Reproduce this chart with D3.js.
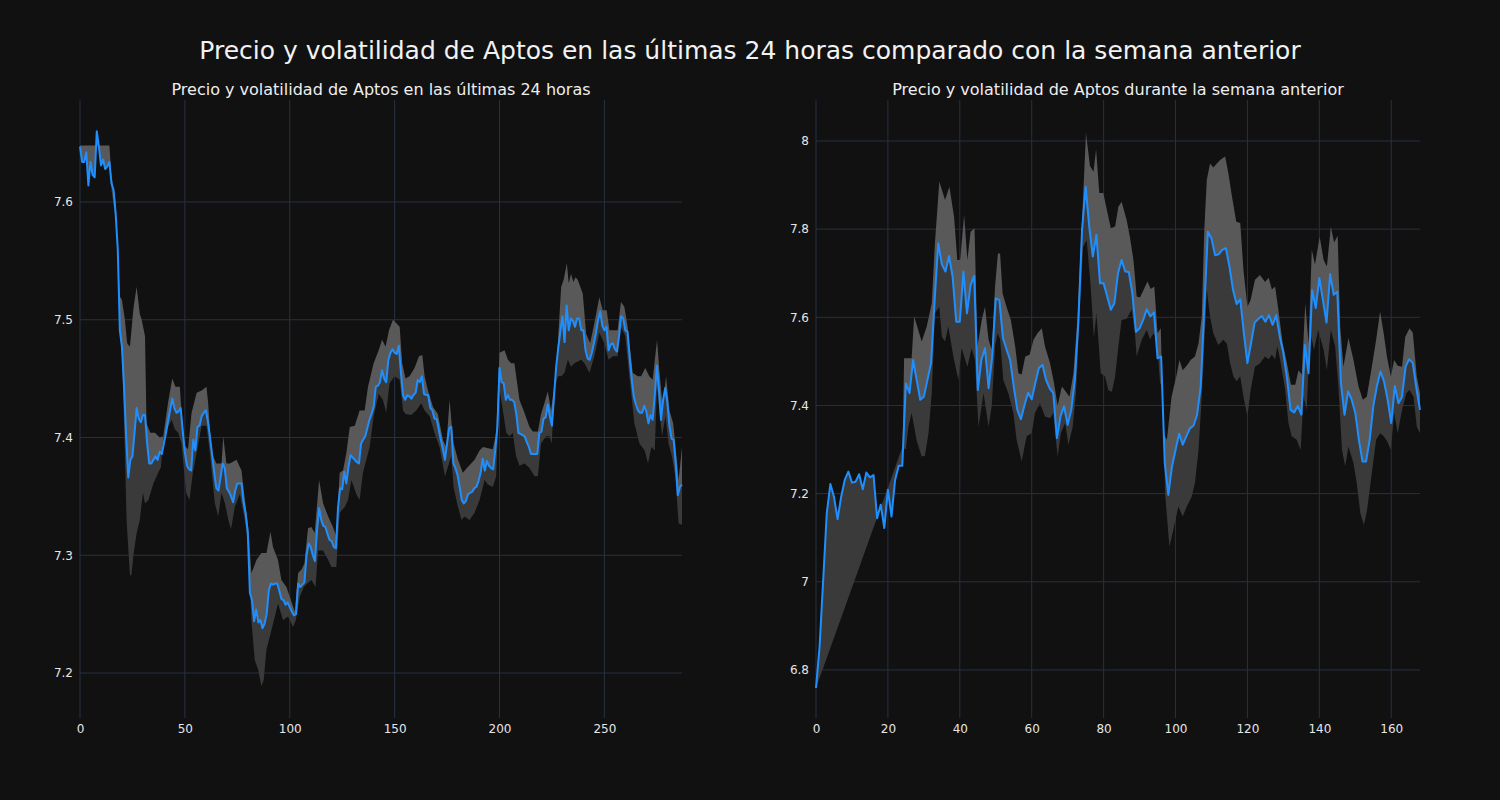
<!DOCTYPE html>
<html><head><meta charset="utf-8">
<script src="https://cdn.jsdelivr.net/npm/d3@7"></script>
<style>
html,body{margin:0;padding:0;background:#111111;}
svg text{font-family:"DejaVu Sans",sans-serif;}
</style></head>
<body>
<svg id="chart" width="1500" height="800"></svg>
<script>
const mainTitle = "Precio y volatilidad de Aptos en las últimas 24 horas comparado con la semana anterior";
const leftTitle = "Precio y volatilidad de Aptos en las últimas 24 horas";
const rightTitle = "Precio y volatilidad de Aptos durante la semana anterior";

const leftXTicks = [0, 50, 100, 150, 200, 250];
const leftYTicks = [7.2, 7.3, 7.4, 7.5, 7.6];
const rightXTicks = [0, 20, 40, 60, 80, 100, 120, 140, 160];
const rightYTicks = [6.8, 7.0, 7.2, 7.4, 7.6, 7.8, 8.0];

// 24h price (5-minute steps)
const leftPrice = [
7.647,7.634,7.634,7.642,7.614,7.634,7.623,7.621,7.660,7.647,
7.631,7.636,7.628,7.630,7.634,7.616,7.610,7.590,7.560,7.491,
7.477,7.443,7.401,7.366,7.381,7.384,7.404,7.425,7.416,7.413,
7.419,7.419,7.395,7.378,7.378,7.381,7.384,7.381,7.388,7.386,
7.395,7.404,7.414,7.424,7.433,7.425,7.421,7.422,7.425,7.405,
7.387,7.376,7.373,7.372,7.398,7.389,7.409,7.410,7.418,7.421,
7.423,7.413,7.400,7.385,7.370,7.357,7.355,7.366,7.378,7.374,
7.357,7.354,7.350,7.345,7.355,7.361,7.361,7.361,7.345,7.335,
7.319,7.268,7.262,7.244,7.254,7.243,7.245,7.238,7.242,7.250,
7.270,7.276,7.275,7.276,7.276,7.270,7.263,7.262,7.258,7.260,
7.256,7.252,7.249,7.250,7.276,7.273,7.275,7.277,7.300,7.310,
7.307,7.300,7.295,7.321,7.340,7.330,7.325,7.324,7.318,7.313,
7.312,7.307,7.306,7.340,7.357,7.356,7.371,7.361,7.375,7.385,
7.383,7.381,7.379,7.378,7.395,7.398,7.401,7.408,7.415,7.420,
7.426,7.443,7.444,7.447,7.457,7.450,7.447,7.466,7.472,7.475,
7.472,7.471,7.478,7.455,7.436,7.432,7.436,7.435,7.433,7.436,
7.438,7.449,7.447,7.452,7.437,7.436,7.436,7.425,7.423,7.416,
7.416,7.407,7.398,7.390,7.381,7.395,7.408,7.409,7.378,7.374,
7.368,7.358,7.347,7.344,7.346,7.352,7.353,7.354,7.357,7.358,
7.363,7.370,7.382,7.372,7.380,7.376,7.374,7.373,7.390,7.409,
7.459,7.447,7.446,7.432,7.436,7.432,7.432,7.430,7.420,7.404,
7.403,7.402,7.401,7.396,7.392,7.386,7.386,7.386,7.386,7.404,
7.405,7.416,7.417,7.428,7.418,7.410,7.435,7.460,7.476,7.490,
7.503,7.481,7.512,7.491,7.501,7.499,7.494,7.501,7.501,7.491,
7.491,7.474,7.467,7.466,7.472,7.480,7.489,7.500,7.507,7.495,
7.491,7.494,7.474,7.479,7.480,7.475,7.473,7.486,7.503,7.501,
7.491,7.490,7.469,7.450,7.435,7.428,7.423,7.421,7.421,7.427,
7.422,7.412,7.419,7.415,7.435,7.461,7.440,7.415,7.432,7.442,
7.430,7.410,7.399,7.398,7.378,7.351,7.358,7.360];

const leftUpperX = [0,14,15,17,18,19,20,21.4,22.5,23.8,25.5,27,28.5,29.4,31,31.7,33.5,35.7,38,39.7,42,44,45.5,47.6,48.4,50,51.5,53.2,55.6,58,60.3,61.1,62.7,65,67.5,68.3,69.8,71.4,74.6,77,78.6,80.2,81.7,82.9,84.1,86.5,88.9,90.8,92,94.4,96,98.4,100,102.4,104,105.6,107,108.7,110.3,111.9,114,115.9,118.3,120.6,122.2,123.8,125.4,127,128.6,131,133.3,135.7,137.3,140,142.4,144,145.7,147.3,149.2,150.8,152.4,153.6,155.2,157.1,159.5,161.6,163.2,164.3,165.9,168.3,170.6,173,174.6,176.2,177,178.1,180.2,182.5,184.9,188.1,190.5,192.1,196.8,198.4,200,202.4,204,205.6,207.1,209.5,211.9,214.3,215.9,218.3,219.8,221.4,223,224.6,226.2,227.8,229.4,230.6,232.1,233,234.1,235.2,236.2,237.3,239.7,241.3,243.2,245.2,247.6,249.2,251.1,252.4,256.3,257.9,259.5,261.1,263.5,265.9,267.5,269.5,271.4,273,275.1,276.2,277.8,279.4,281,282.8,284.1,285.4,287];
const leftUpperV = [7.648,7.648,7.622,7.600,7.565,7.520,7.517,7.500,7.480,7.477,7.510,7.528,7.505,7.500,7.486,7.412,7.404,7.404,7.400,7.401,7.430,7.450,7.443,7.443,7.421,7.393,7.390,7.421,7.438,7.440,7.443,7.429,7.387,7.378,7.378,7.401,7.378,7.378,7.381,7.372,7.347,7.324,7.285,7.290,7.296,7.302,7.302,7.320,7.307,7.296,7.279,7.273,7.265,7.252,7.285,7.288,7.293,7.323,7.324,7.319,7.364,7.344,7.333,7.324,7.316,7.370,7.372,7.387,7.409,7.410,7.423,7.423,7.443,7.463,7.474,7.483,7.477,7.491,7.500,7.497,7.494,7.463,7.450,7.452,7.459,7.469,7.470,7.452,7.440,7.426,7.420,7.398,7.392,7.432,7.415,7.395,7.381,7.370,7.375,7.381,7.389,7.392,7.390,7.404,7.472,7.474,7.466,7.463,7.463,7.432,7.421,7.409,7.405,7.405,7.420,7.429,7.439,7.423,7.446,7.480,7.528,7.534,7.548,7.531,7.539,7.532,7.536,7.534,7.522,7.488,7.480,7.497,7.519,7.508,7.508,7.491,7.491,7.515,7.511,7.494,7.455,7.452,7.452,7.459,7.452,7.449,7.483,7.457,7.426,7.452,7.423,7.412,7.389,7.364,7.392];

const leftLowerX = [15,17,18,19,20,21.4,22.2,23.8,24.5,25.6,27,28.5,30,31,32.6,35,37.3,38.6,39.7,43.7,45.2,46.8,48.4,50.6,52.2,53.8,55.6,58,60.3,61.9,64.3,65.9,67.5,69.1,70.7,72,73.8,76.2,78.6,80.2,81.7,83.3,84.9,86.5,87.6,88.9,90.5,92.9,94.4,96.8,99.2,101.6,102.9,104.8,106.7,108.3,110.3,112.3,113.5,115.9,118.3,119.9,122.2,123.8,126.2,127.8,129.4,131.7,133.3,134.9,136.5,138.1,140,142.4,144.4,146,147.6,150,152.4,154,155.2,157.9,160.3,162.7,164.3,166.7,169,171.4,174,175.4,177,178.1,180.2,181.9,183.3,185.7,188.1,190.5,192.9,194.4,196.8,198.4,200,201.6,203.2,204.8,206.3,207.9,209.5,211.9,214.3,216.7,218.3,219.8,222.2,223.8,224.9,226.2,227.8,229.4,231,232.6,234.1,235.7,238.9,240.5,242.9,245.2,247.6,250,252,254,256.3,257.9,260,261.9,264.3,266.7,269.2,270.8,272.4,274,275.1,276.2,277.5,279.1,280.6,282.2,283.8,285.4,287];
const leftLowerV = [7.610,7.585,7.550,7.490,7.470,7.387,7.330,7.283,7.283,7.302,7.319,7.330,7.353,7.344,7.347,7.361,7.370,7.375,7.401,7.415,7.407,7.404,7.395,7.353,7.347,7.370,7.387,7.410,7.410,7.387,7.344,7.333,7.353,7.344,7.330,7.322,7.341,7.352,7.330,7.307,7.245,7.211,7.203,7.189,7.194,7.220,7.231,7.248,7.259,7.245,7.248,7.239,7.245,7.265,7.273,7.276,7.279,7.273,7.304,7.304,7.296,7.290,7.290,7.336,7.341,7.347,7.364,7.352,7.347,7.370,7.381,7.392,7.418,7.437,7.432,7.421,7.446,7.452,7.449,7.423,7.420,7.419,7.423,7.429,7.423,7.418,7.404,7.392,7.367,7.375,7.384,7.358,7.341,7.330,7.333,7.330,7.336,7.347,7.364,7.360,7.358,7.367,7.441,7.423,7.404,7.401,7.404,7.384,7.376,7.378,7.374,7.367,7.367,7.395,7.401,7.401,7.395,7.440,7.452,7.452,7.455,7.466,7.460,7.463,7.466,7.463,7.455,7.469,7.489,7.480,7.466,7.469,7.469,7.494,7.486,7.452,7.412,7.395,7.389,7.378,7.392,7.389,7.443,7.423,7.401,7.418,7.395,7.384,7.367,7.327,7.326];

// previous week price (hourly)
const rightPrice = [
6.759,6.853,7.004,7.156,7.222,7.193,7.142,7.193,7.231,7.250,
7.225,7.227,7.244,7.210,7.248,7.237,7.242,7.144,7.175,7.122,
7.209,7.148,7.231,7.263,7.263,7.450,7.428,7.503,7.458,7.413,
7.420,7.458,7.496,7.639,7.768,7.720,7.704,7.739,7.692,7.590,
7.590,7.704,7.609,7.673,7.694,7.435,7.503,7.530,7.439,7.510,
7.643,7.639,7.553,7.527,7.503,7.443,7.390,7.369,7.401,7.429,
7.414,7.451,7.485,7.492,7.458,7.439,7.428,7.326,7.375,7.398,
7.356,7.390,7.458,7.594,7.798,7.896,7.806,7.738,7.787,7.677,
7.677,7.647,7.617,7.632,7.700,7.730,7.704,7.703,7.654,7.567,
7.575,7.594,7.618,7.602,7.611,7.507,7.511,7.270,7.197,7.261,
7.299,7.336,7.311,7.330,7.348,7.354,7.379,7.443,7.620,7.794,
7.779,7.741,7.743,7.753,7.757,7.715,7.662,7.630,7.641,7.564,
7.496,7.541,7.588,7.596,7.603,7.590,7.605,7.583,7.605,7.556,
7.519,7.462,7.390,7.384,7.399,7.379,7.537,7.473,7.662,7.621,
7.689,7.639,7.588,7.698,7.651,7.658,7.451,7.379,7.432,7.413,
7.383,7.322,7.273,7.273,7.322,7.398,7.443,7.477,7.454,7.413,
7.360,7.444,7.405,7.420,7.488,7.505,7.496,7.439,7.390];

const rightUpperX = [24,24.5,26.6,27.3,29.4,30.8,32.2,33.1,34.3,35.9,37.1,38.4,39.3,40.1,41.2,42.1,43,44.1,44.9,46.1,47,48,48.9,49.8,50.6,51.2,51.9,53,54.2,55.4,56.3,57.2,58.2,59.4,60.5,61.6,62.8,63.7,65.1,66.2,67.2,68.4,69.6,70.5,71.6,72.7,74,75.1,76.2,77.2,77.9,78.8,79.9,80.9,82,83.2,84.1,85,86.4,87.3,88.3,89.2,90.1,91.1,92.2,93.1,94.1,95,95.9,96.6,97.6,98.9,100.2,101.1,102,103.1,104.2,105.4,106.4,107.3,108,108.7,109.6,110.5,111.5,112.4,113.8,114.7,115.7,116.9,118,118.9,120,120.9,122.1,123.5,124.9,125.9,126.8,127.7,128.6,129.8,131,132.1,133.3,134.2,135.1,136.1,137,137.9,138.8,140.1,141.2,142.1,143.2,144.1,145.1,145.8,146.7,148.1,149.5,150.9,152.1,153.2,154.6,155.8,156.9,157.9,158.8,159.9,160.8,161.8,163,163.9,165.1,166,167.1,168];
const rightUpperV = [7.263,7.507,7.507,7.602,7.545,7.579,7.632,7.771,7.908,7.866,7.896,7.828,7.730,7.730,7.832,7.730,7.794,7.802,7.534,7.594,7.624,7.549,7.526,7.670,7.745,7.745,7.654,7.624,7.594,7.534,7.473,7.470,7.511,7.515,7.549,7.564,7.575,7.534,7.496,7.451,7.400,7.443,7.430,7.420,7.473,7.594,7.821,8.018,7.943,7.930,7.981,7.882,7.882,7.844,7.802,7.806,7.851,7.862,7.821,7.783,7.730,7.647,7.645,7.662,7.681,7.664,7.670,7.564,7.575,7.337,7.322,7.420,7.466,7.503,7.480,7.490,7.503,7.511,7.541,7.602,7.798,7.912,7.949,7.940,7.949,7.957,7.965,7.927,7.874,7.817,7.814,7.707,7.624,7.640,7.685,7.696,7.680,7.690,7.663,7.670,7.617,7.541,7.496,7.447,7.447,7.480,7.470,7.632,7.540,7.753,7.720,7.783,7.730,7.715,7.806,7.770,7.785,7.579,7.488,7.553,7.503,7.443,7.413,7.420,7.488,7.549,7.613,7.564,7.511,7.466,7.503,7.490,7.488,7.556,7.575,7.565,7.466,7.428];

const rightLowerX = [0,24,25,25.7,26.6,28,29.4,30.3,31.3,32.2,33.1,34.3,35,35.9,36.8,38.2,39.6,40.5,42.1,43.3,44.2,45.2,46.6,48,48.9,49.8,50.5,51.2,52.1,53.5,54.9,55.8,57.2,58.6,60,60.9,62.3,63.7,65.1,66,67.2,68.1,69.3,70.2,71.4,72.3,73.4,74.3,75.3,76.4,77.3,78,79.2,80.4,81.3,82.3,83.2,84.1,85,86.4,87.8,88.7,89.2,90.6,92,92.9,93.9,94.8,95.7,96.4,97.1,98.3,99.4,100.8,102,103.1,104.5,105.4,106.4,107.3,108.7,109.6,110.5,111.9,113.3,114.3,115.2,116.1,117,118,118.9,120,120.9,122.1,123.5,124.9,125.9,126.8,127.7,128.3,129.2,130.5,131.4,132.3,133.7,134.8,135.6,136.5,137.4,138.5,139.7,141.2,142.1,143.2,144.4,145.3,146.3,147.2,148.1,149.5,150.4,151.4,152.4,153.3,154.6,155.8,156.9,157.9,158.8,159.9,160.8,161.8,163,164.2,165.1,166.2,167.1,168];
const rightLowerV = [6.759,7.305,7.300,7.352,7.383,7.320,7.284,7.286,7.337,7.428,7.609,7.624,7.556,7.545,7.579,7.511,7.458,7.530,7.488,7.530,7.503,7.352,7.428,7.352,7.400,7.534,7.564,7.550,7.458,7.428,7.383,7.322,7.273,7.330,7.337,7.383,7.405,7.375,7.371,7.383,7.284,7.337,7.360,7.311,7.352,7.428,7.624,7.760,7.775,7.670,7.553,7.609,7.473,7.466,7.435,7.431,7.466,7.534,7.594,7.597,7.617,7.564,7.511,7.549,7.571,7.550,7.564,7.550,7.451,7.440,7.200,7.080,7.118,7.171,7.148,7.170,7.193,7.224,7.299,7.420,7.662,7.602,7.564,7.537,7.549,7.540,7.496,7.466,7.455,7.466,7.420,7.375,7.435,7.488,7.496,7.511,7.505,7.515,7.505,7.534,7.500,7.435,7.360,7.330,7.322,7.299,7.420,7.390,7.571,7.526,7.571,7.526,7.480,7.571,7.534,7.443,7.299,7.262,7.307,7.269,7.224,7.156,7.129,7.164,7.247,7.322,7.337,7.330,7.320,7.299,7.383,7.337,7.390,7.428,7.435,7.420,7.352,7.337];

const svg = d3.select("#chart");
const W = 1500, H = 800;
svg.append("rect").attr("width", W).attr("height", H).attr("fill", "#111111");

svg.append("text").attr("x", 750).attr("y", 59).attr("text-anchor", "middle")
  .attr("fill", "#f2f2f2").attr("font-size", "25px").text(mainTitle);

const GRID = "#283040";
const LINE = "#1f8fff";
const LIGHT = "#595959";
const DARK = "#3a3a3a";

function panel(opt) {
  const x = d3.scaleLinear().domain(opt.xDomain).range([opt.left, opt.right]);
  const y = d3.scaleLinear().domain(opt.yDomain).range([opt.bottom, opt.top]);
  const g = svg.append("g");

  g.selectAll(".vg").data(opt.xTicks).join("line")
    .attr("x1", d => x(d)).attr("x2", d => x(d))
    .attr("y1", opt.top).attr("y2", opt.bottom)
    .attr("stroke", GRID).attr("stroke-width", 1);
  g.selectAll(".hg").data(opt.yTicks).join("line")
    .attr("x1", opt.left).attr("x2", opt.right)
    .attr("y1", d => y(d)).attr("y2", d => y(d))
    .attr("stroke", GRID).attr("stroke-width", 1);

  const pts = opt.price.map((v, i) => [i, v]);
  const line = d3.line().x(d => x(d[0])).y(d => y(d[1]));

  function bandPoly(bx, bv) {
    const band = bx.map((xx, i) => [xx, bv[i]]);
    const x0 = bx[0], x1 = bx[bx.length - 1];
    const fwd = pts.filter(p => p[0] >= x0 && p[0] <= x1);
    return line(fwd.concat(band.slice().reverse())) + "Z";
  }

  g.append("path").attr("d", bandPoly(opt.upperX, opt.upperV)).attr("fill", LIGHT).attr("stroke", "none");
  g.append("path").attr("d", bandPoly(opt.lowerX, opt.lowerV)).attr("fill", DARK).attr("stroke", "none");

  g.append("path").attr("d", line(pts)).attr("fill", "none")
    .attr("stroke", LINE).attr("stroke-width", 2).attr("stroke-linejoin", "round");

  const xAxis = d3.axisBottom(x).tickValues(opt.xTicks).tickSize(0).tickPadding(6).tickFormat(d3.format("d"));
  const gx = g.append("g").attr("transform", `translate(0,${opt.bottom})`).call(xAxis);
  const yAxis = d3.axisLeft(y).tickValues(opt.yTicks).tickSize(0).tickPadding(7).tickFormat(opt.yFmt);
  const gy = g.append("g").attr("transform", `translate(${opt.left},0)`).call(yAxis);
  [gx, gy].forEach(a => {
    a.select(".domain").remove();
    a.selectAll("text").attr("fill", "#e6e6e6").attr("font-size", "12px")
      .attr("font-family", "DejaVu Sans");
  });

  svg.append("text").attr("x", (opt.left + opt.right) / 2).attr("y", 95)
    .attr("text-anchor", "middle").attr("fill", "#eeeeee").attr("font-size", "16px")
    .text(opt.title);
}

panel({
  left: 80, right: 682, top: 100, bottom: 718,
  xDomain: [0, 287], yDomain: [7.1618, 7.6866],
  xTicks: leftXTicks, yTicks: leftYTicks,
  yFmt: d => d3.format(".1f")(d),
  price: leftPrice, upperX: leftUpperX, upperV: leftUpperV,
  lowerX: leftLowerX, lowerV: leftLowerV, title: leftTitle
});

panel({
  left: 816, right: 1420, top: 100, bottom: 718,
  xDomain: [0, 168], yDomain: [6.691, 8.093],
  xTicks: rightXTicks, yTicks: rightYTicks,
  yFmt: d => String(+d.toFixed(1)),
  price: rightPrice, upperX: rightUpperX, upperV: rightUpperV,
  lowerX: rightLowerX, lowerV: rightLowerV, title: rightTitle
});
</script>
</body></html>
